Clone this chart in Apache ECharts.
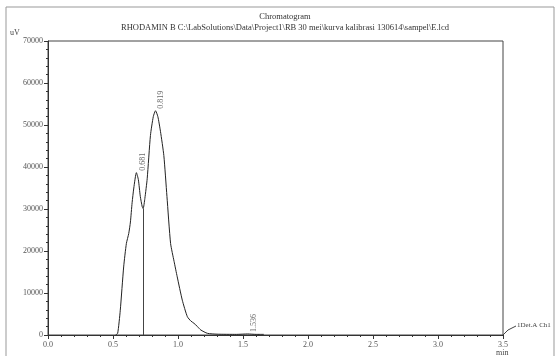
<!DOCTYPE html>
<html>
<head>
<meta charset="utf-8">
<script src="https://cdn.jsdelivr.net/npm/echarts@6/dist/echarts.min.js"></script>
<style>
  html, body { margin: 0; padding: 0; background: #fff; }
  #chart { width: 555px; height: 356px; }
</style>
</head>
<body>
<div id="chart"></div>
<script>
  // retention time (min) and detector signal (uV)
  const times = [0.52, 0.536, 0.556, 0.582, 0.603, 0.621, 0.634, 0.647, 0.66, 0.68, 0.695, 0.71, 0.725, 0.732,
    0.745, 0.763, 0.788, 0.81, 0.827, 0.845, 0.865, 0.891, 0.915, 0.943, 0.97, 0.994, 1.033, 1.072, 1.1,
    1.123, 1.15, 1.175, 1.226, 1.3, 1.45, 1.536, 1.6, 1.66];
  const signal = [0, 400, 5900, 16200, 21800, 24150, 26900, 31500, 35000, 38650, 37000, 33000, 30500, 30100,
    32500, 37200, 47500, 52000, 53400, 52000, 48500, 42750, 33000, 21800, 17500, 13850, 8300, 4350, 3300,
    2780, 2000, 1200, 400, 200, 150, 250, 150, 150];

  // detected peaks
  const peakTimes = [0.681, 0.819, 1.536];
  const peakHeights = [38650, 53400, 250];

  // baseline drop line between the two main peaks
  const dropTime = 0.73;
  const dropHeight = 30100;

  const xTicks = [0, 0.5, 1.0, 1.5, 2.0, 2.5, 3.0, 3.5];
  const yTicks = [0, 10000, 20000, 30000, 40000, 50000, 60000, 70000];

  const titleLine1 = 'Chromatogram';
  const titleLine2 = 'RHODAMIN B C:\\LabSolutions\\Data\\Project1\\RB 30 mei\\kurva kalibrasi 130614\\sampel\\E.lcd';

  const serif = '"Liberation Serif", "DejaVu Serif", serif';
  const inkColor = '#333';

  const chart = echarts.init(document.getElementById('chart'));

  const option = {
    animation: false,
    backgroundColor: '#fff',
    title: {
      text: titleLine1,
      subtext: titleLine2,
      left: 280,
      top: 7,
      textAlign: 'center',
      itemGap: 2,
      textStyle: { fontFamily: serif, fontSize: 8.5, fontWeight: 'normal', color: '#333' },
      subtextStyle: { fontFamily: serif, fontSize: 8.5, color: '#333' },
    },
    grid: { left: 48, right: 52, top: 41, bottom: 21, show: true, borderColor: '#444', borderWidth: 1 },
    xAxis: {
      type: 'value',
      min: xTicks[0],
      max: xTicks[xTicks.length - 1],
      interval: 0.5,
      axisLine: { lineStyle: { color: inkColor, width: 1 } },
      axisTick: { length: 4, lineStyle: { color: inkColor } },
      minorTick: { show: true, splitNumber: 5, length: 2, lineStyle: { color: inkColor } },
      splitLine: { show: false },
      axisLabel: {
        color: '#555',
        fontFamily: serif,
        fontSize: 8,
        margin: 6,
        formatter: (v) => v.toFixed(1),
      },
    },
    yAxis: {
      type: 'value',
      min: yTicks[0],
      max: yTicks[yTicks.length - 1],
      interval: 10000,
      axisLine: { show: true, lineStyle: { color: inkColor, width: 1 } },
      axisTick: { show: true, length: 4, lineStyle: { color: inkColor } },
      minorTick: { show: true, splitNumber: 5, length: 2, lineStyle: { color: inkColor } },
      splitLine: { show: false },
      axisLabel: {
        color: '#555',
        fontFamily: serif,
        fontSize: 8,
        margin: 5,
        formatter: (v) => String(v),
      },
    },
    series: [
      {
        name: 'trace',
        type: 'line',
        data: times.map((t, i) => [t, signal[i]]),
        showSymbol: false,
        smooth: 0.2,
        lineStyle: { color: '#222', width: 1 },
        markLine: {
          silent: true,
          symbol: 'none',
          label: { show: false },
          lineStyle: { color: '#444', width: 1, type: 'solid' },
          data: [[{ coord: [dropTime, 0] }, { coord: [dropTime, dropHeight] }]],
        },
        z: 3,
      },
      {
        name: 'peaks',
        type: 'scatter',
        data: peakTimes.map((t, i) => [t, peakHeights[i]]),
        symbolSize: 0,
        label: {
          show: true,
          position: 'top',
          rotate: 90,
          align: 'left',
          verticalAlign: 'middle',
          distance: 2,
          offset: [0, 6],
          fontFamily: serif,
          fontSize: 8,
          color: '#444',
          formatter: (p) => p.value[0].toFixed(3),
        },
      },
    ],
    graphic: [
      {
        type: 'rect',
        shape: { x: 6, y: 7, width: 548, height: 360 },
        style: { fill: 'none', stroke: '#999', lineWidth: 1 },
        silent: true,
      },
      {
        type: 'text',
        left: 10,
        top: 29,
        style: { text: 'uV', font: '8px ' + serif, fill: '#444' },
      },
      {
        type: 'text',
        left: 496,
        top: 349,
        style: { text: 'min', font: '8px ' + serif, fill: '#444' },
      },
      {
        type: 'polyline',
        shape: { points: [[503, 335], [508, 330], [516, 326]] },
        style: { stroke: '#444', lineWidth: 1, fill: 'none' },
      },
      {
        type: 'text',
        left: 517,
        top: 322,
        style: { text: '1Det.A Ch1', font: '7px ' + serif, fill: '#444' },
      },
    ],
  };

  chart.setOption(option);
</script>
</body>
</html>
